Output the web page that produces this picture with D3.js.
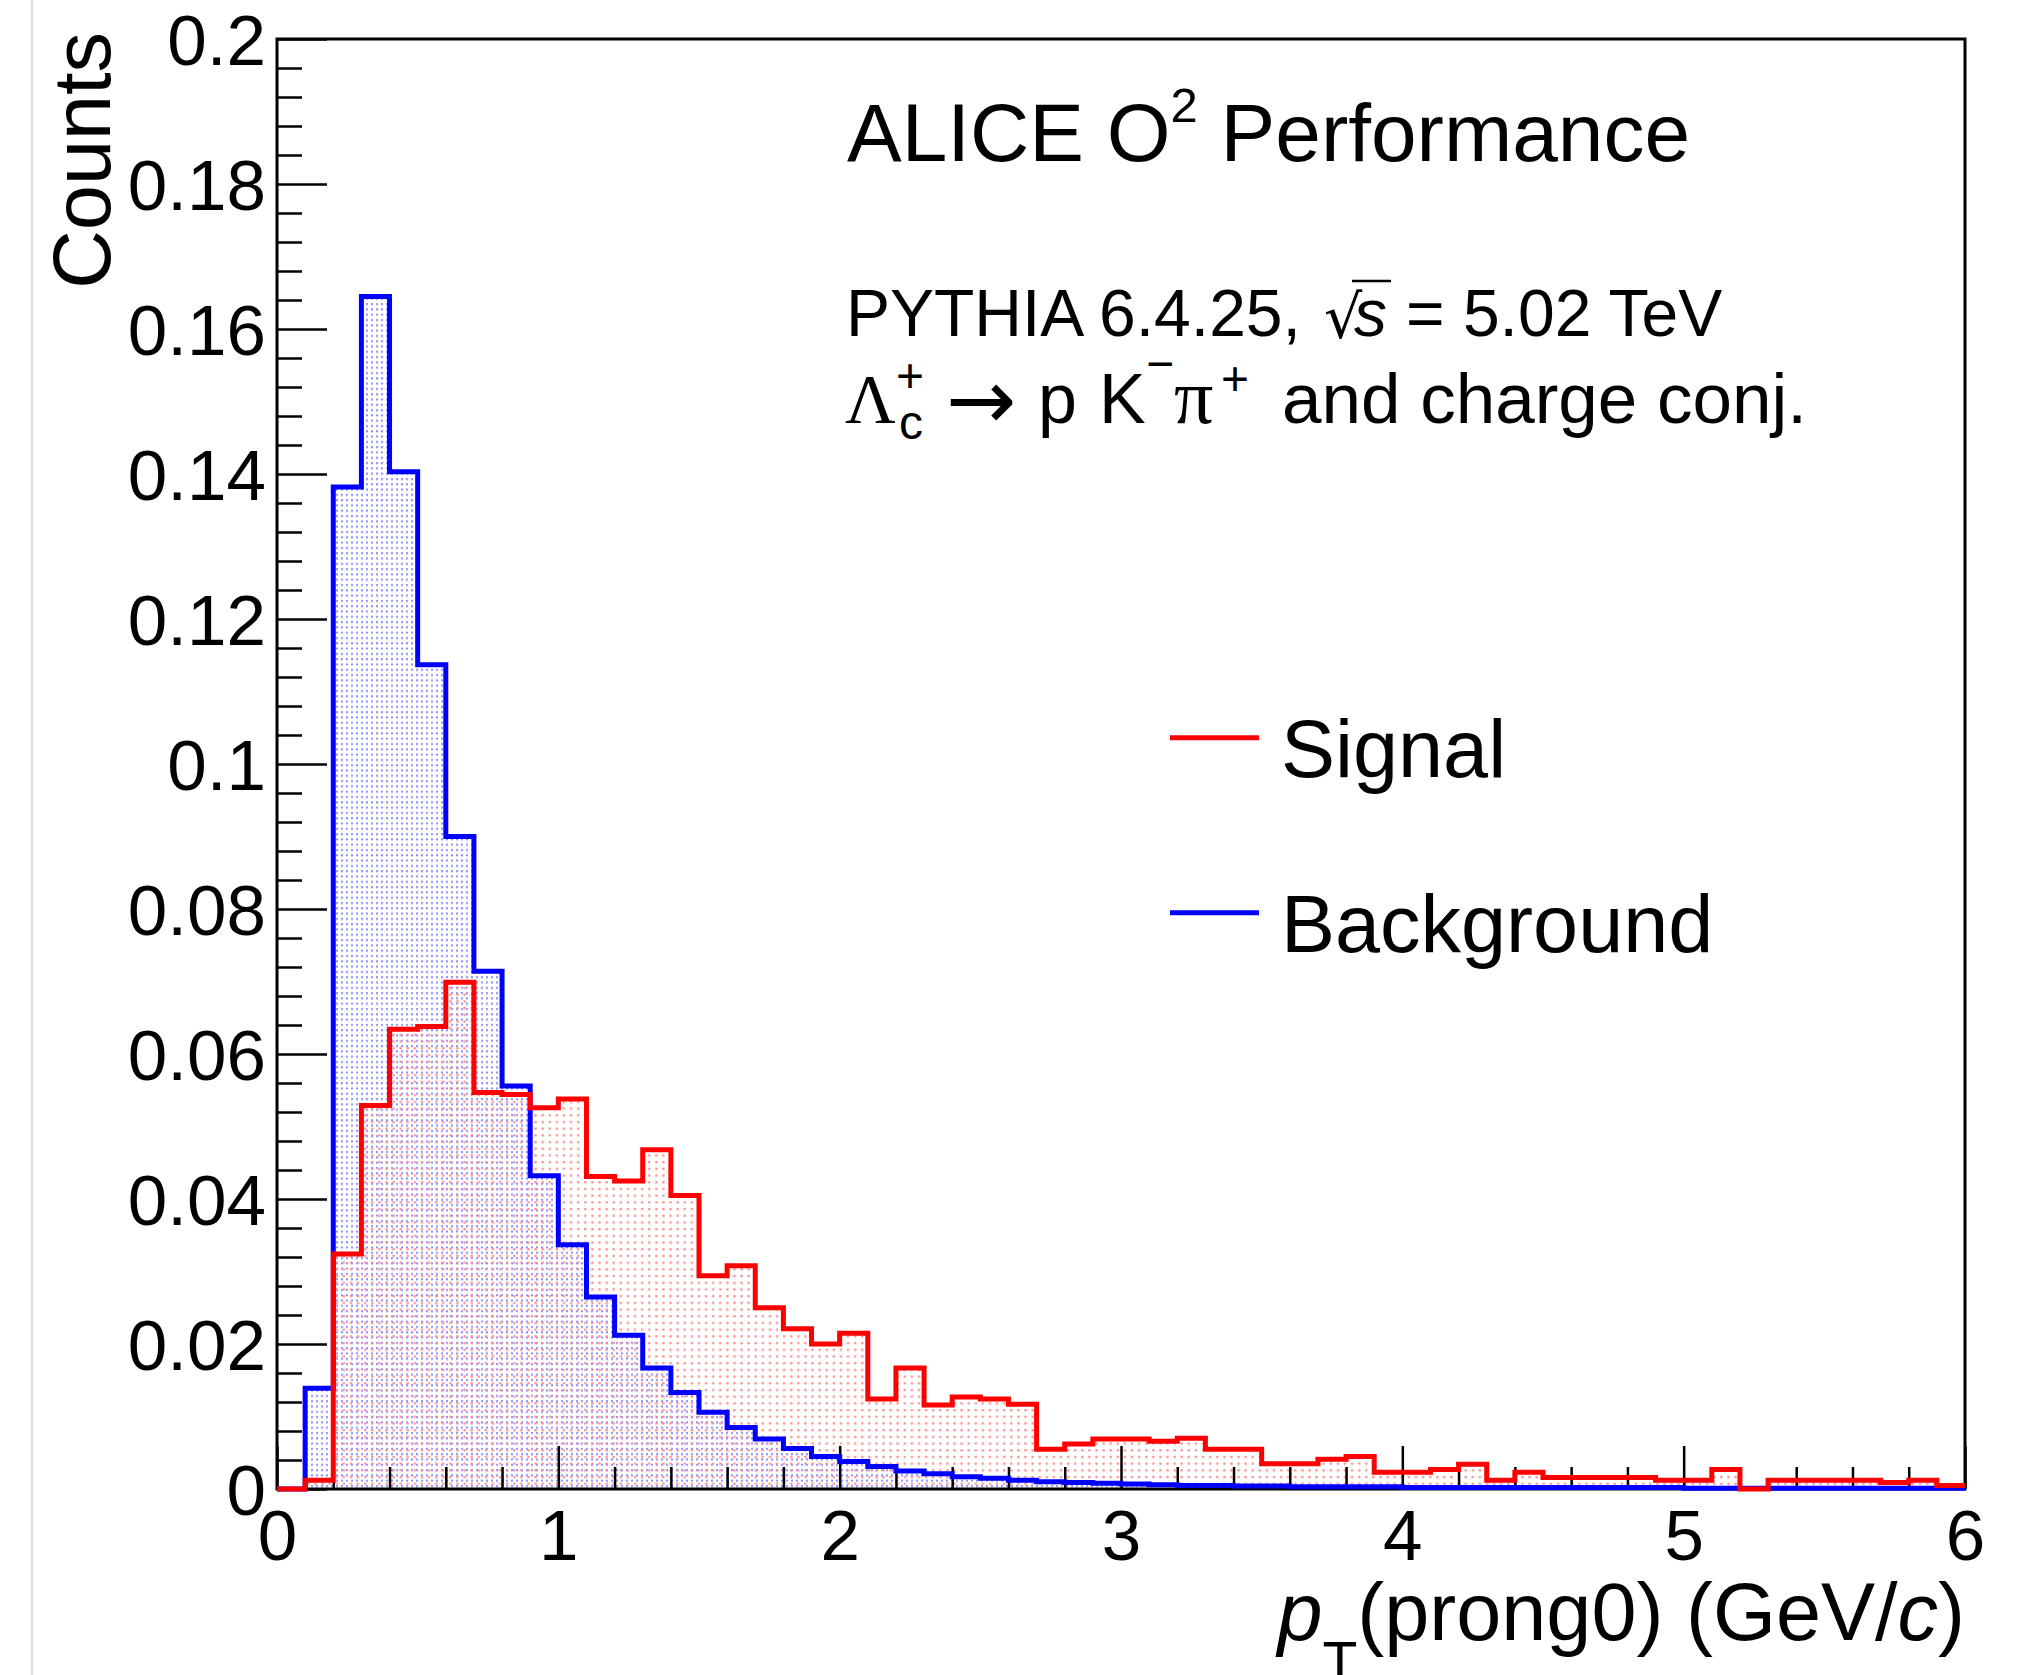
<!DOCTYPE html>
<html><head><meta charset="utf-8">
<script src="https://cdn.jsdelivr.net/npm/d3@7"></script>
<style>
body{margin:0;background:#fff}
svg{display:block}
</style>
</head><body>
<svg id="chart" width="2018" height="1675" font-family="'Liberation Sans',Arial,Helvetica,sans-serif"></svg>
<script>
// ---- data ----
const xDomain = [0, 6];
const yDomain = [0, 0.2];
const binWidth = 0.1;
const signal = [
  0.0000, 0.0012, 0.0324, 0.0529, 0.0634, 0.0638, 0.0699, 0.0547, 0.0544, 0.0526,
  0.0538, 0.0431, 0.0425, 0.0468, 0.0405, 0.0294, 0.0308, 0.0250, 0.0221, 0.0200,
  0.0215, 0.0124, 0.0167, 0.0116, 0.0127, 0.0124, 0.0117, 0.0055, 0.0062, 0.0069,
  0.0069, 0.0066, 0.0070, 0.0055, 0.0055, 0.0035, 0.0035, 0.0041, 0.0045, 0.0023,
  0.0023, 0.0027, 0.0034, 0.0012, 0.0023, 0.0016, 0.0016, 0.0016, 0.0016, 0.0012,
  0.0012, 0.0027, 0.0000, 0.0012, 0.0012, 0.0012, 0.0012, 0.0009, 0.0012, 0.0005
];
const background = [
  0.0000, 0.0139, 0.1382, 0.1645, 0.1403, 0.1137, 0.0900, 0.0714, 0.0556, 0.0432,
  0.0337, 0.0265, 0.0212, 0.0167, 0.0133, 0.0106, 0.0085, 0.0069, 0.0056, 0.0045,
  0.0038, 0.0031, 0.0025, 0.0021, 0.0017, 0.0015, 0.0012, 0.0010, 0.0009, 0.0008,
  0.0007, 0.0006, 0.0005, 0.0005, 0.0004, 0.0004, 0.0003, 0.0003, 0.0003, 0.0003,
  0.0002, 0.0002, 0.0002, 0.0002, 0.0002, 0.0002, 0.0002, 0.0002, 0.0002, 0.0002,
  0.0001, 0.0001, 0.0001, 0.0001, 0.0001, 0.0001, 0.0001, 0.0001, 0.0001, 0.0001
];
const xTickValues = [0, 1, 2, 3, 4, 5, 6];
const xTickLabels = ["0", "1", "2", "3", "4", "5", "6"];
const yTickValues = [0, 0.02, 0.04, 0.06, 0.08, 0.1, 0.12, 0.14, 0.16, 0.18, 0.2];
const yTickLabels = ["0", "0.02", "0.04", "0.06", "0.08", "0.1", "0.12", "0.14", "0.16", "0.18", "0.2"];
const xMinorStep = 0.2;
const yMinorStep = 0.004;
const legendNames = ["Signal", "Background"];
const seriesColors = ["#ff0000", "#0000ff"];

// ---- layout ----
const SANS = "'Liberation Sans',Arial,Helvetica,sans-serif";
const SERIF = "'Liberation Serif','Times New Roman',serif";
const DEJA = "'DejaVu Sans',sans-serif";
const svg = d3.select("#chart");
const L = 277, R = 1965, T = 39, B = 1489;
const x = d3.scaleLinear().domain(xDomain).range([L, R]);
const y = d3.scaleLinear().domain(yDomain).range([B, T]);

function txt(xp, yp, size, s, fam, italic) {
  const t = svg.append("text").attr("x", xp).attr("y", yp)
    .style("font-size", size + "px").style("font-family", fam || SANS).style("fill", "#000");
  if (italic) t.style("font-style", "italic");
  if (s !== null) t.text(s);
  return t;
}

// page edge line
svg.append("line").attr("x1", 32).attr("x2", 32).attr("y1", 0).attr("y2", 1675)
  .attr("stroke", "#cfcfcf").attr("stroke-width", 1.5);

// patterns
const defs = svg.append("defs");
const pb = defs.append("pattern").attr("id", "patB").attr("patternUnits", "userSpaceOnUse")
  .attr("width", 5).attr("height", 5.3);
pb.append("rect").attr("x", 1).attr("y", 1).attr("width", 2).attr("height", 2).attr("fill", "#8e8eff");
const pr = defs.append("pattern").attr("id", "patR").attr("patternUnits", "userSpaceOnUse")
  .attr("width", 7.1).attr("height", 6.7);
pr.append("rect").attr("x", 2).attr("y", 2).attr("width", 2.2).attr("height", 2.2).attr("fill", "#ff8888");

function pts(vals) {
  const p = vals.map((v, i) => [xDomain[0] + i * binWidth, v]);
  p.push([xDomain[0] + vals.length * binWidth, vals[vals.length - 1]]);
  return p;
}
const area = d3.area().x(d => x(d[0])).y0(y(0)).y1(d => y(d[1])).curve(d3.curveStepAfter);
const line = d3.line().x(d => x(d[0])).y(d => y(d[1])).curve(d3.curveStepAfter);

const bgPts = pts(background), sgPts = pts(signal);
svg.append("path").attr("d", area(bgPts)).attr("fill", "url(#patB)");
svg.append("path").attr("d", area(sgPts)).attr("fill", "url(#patR)");

// axes
const yMinor = d3.range(yDomain[0], yDomain[1] + 1e-9, yMinorStep)
  .filter(v => !yTickValues.some(t => Math.abs(t - v) < 1e-9));
const xMinor = d3.range(xDomain[0], xDomain[1] + 1e-9, xMinorStep)
  .filter(v => !xTickValues.some(t => Math.abs(t - v) < 1e-9));

const gy = svg.append("g").attr("transform", `translate(${L},0)`)
  .call(d3.axisLeft(y).tickValues(yTickValues).tickSize(-50).tickPadding(11)
    .tickFormat((d, i) => yTickLabels[i]));
const gym = svg.append("g").attr("transform", `translate(${L},0)`)
  .call(d3.axisLeft(y).tickValues(yMinor).tickSize(-25).tickFormat(""));
const gx = svg.append("g").attr("transform", `translate(0,${B})`)
  .call(d3.axisBottom(x).tickValues(xTickValues).tickSize(-43).tickPadding(21)
    .tickFormat((d, i) => xTickLabels[i]));
const gxm = svg.append("g").attr("transform", `translate(0,${B})`)
  .call(d3.axisBottom(x).tickValues(xMinor).tickSize(-22).tickFormat(""));
[gy, gym, gx, gxm].forEach(g => {
  g.select(".domain").remove();
  g.selectAll(".tick line").attr("stroke", "#000").attr("stroke-width", 2.5);
  g.selectAll(".tick text").style("font-size", "71px").style("font-family", SANS).style("fill", "#000");
});
gy.selectAll(".tick text").attr("dy", "0.36em");

// frame
svg.append("rect").attr("x", L).attr("y", T).attr("width", R - L).attr("height", B - T)
  .attr("fill", "none").attr("stroke", "#000").attr("stroke-width", 3);

// histogram outlines
svg.append("path").attr("d", line(bgPts)).attr("fill", "none")
  .attr("stroke", seriesColors[1]).attr("stroke-width", 5);
svg.append("path").attr("d", line(sgPts)).attr("fill", "none")
  .attr("stroke", seriesColors[0]).attr("stroke-width", 5);

// axis titles
svg.append("text").attr("transform", "translate(110,32) rotate(-90)")
  .attr("text-anchor", "end").style("font-size", "81px").style("font-family", SANS).text("Counts");

const xt = svg.append("text").attr("x", R).attr("y", 1640).attr("text-anchor", "end")
  .style("font-size", "81px").style("font-family", SANS);
xt.append("tspan").style("font-style", "italic").text("p");
xt.append("tspan").style("font-size", "57px").attr("dy", 42).text("T");
xt.append("tspan").style("font-size", "81px").attr("dy", -42).text("(prong0) (GeV/");
xt.append("tspan").style("font-style", "italic").text("c");
xt.append("tspan").text(")");

// ALICE label
const al = txt(847, 161, 82, null);
al.append("tspan").text("ALICE O");
al.append("tspan").style("font-size", "49px").attr("dy", -39).text("2");
al.append("tspan").style("font-size", "82px").attr("dy", 39).text(" Performance");

// PYTHIA line
const b1 = 336;
txt(846, b1, 66, "PYTHIA 6.4.25,");
txt(1324, b1 + 2, 60, "√", DEJA);
svg.append("line").attr("x1", 1352).attr("x2", 1391).attr("y1", 281).attr("y2", 281)
  .attr("stroke", "#000").attr("stroke-width", 2.5);
txt(1354, b1, 66, "s", SANS, true);
txt(1406, b1, 66, "= 5.02 TeV");

// decay line
const b2 = 423;
txt(845, b2, 70, "Λ", SERIF);
txt(899, 439, 48, "c");
txt(896, 392, 48, "+");
txt(946, 429, 84, "→", DEJA);
txt(1038, b2, 70, "p");
txt(1099, b2, 70, "K");
txt(1146, 380, 48, "−");
txt(1174, b2, 78, "π", SERIF);
txt(1221, 395, 48, "+");
txt(1282, b2, 71, "and charge conj.");

// legend
const legY = [737.7, 912.7];
const legText = [777, 952];
legendNames.forEach((n, i) => {
  svg.append("line").attr("x1", 1170).attr("x2", 1259).attr("y1", legY[i]).attr("y2", legY[i])
    .attr("stroke", seriesColors[i]).attr("stroke-width", 5);
  txt(1281, legText[i], 81, n);
});
</script>
</body></html>
